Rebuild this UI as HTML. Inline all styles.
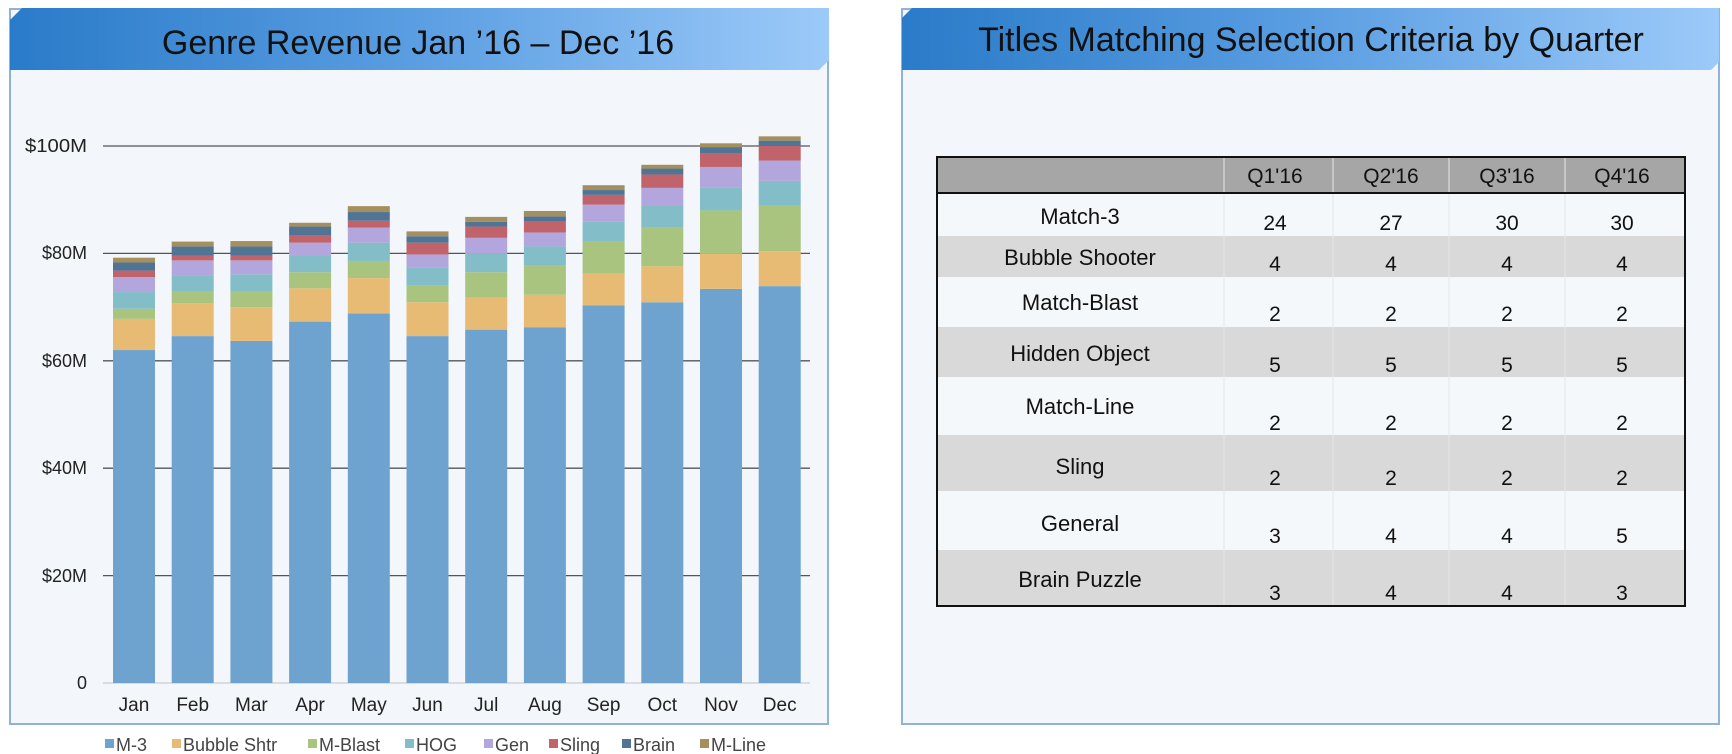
<!DOCTYPE html>
<html><head><meta charset="utf-8"><style>
html,body{margin:0;padding:0;background:#fff;}
svg{display:block;font-family:"Liberation Sans",Arial,sans-serif;}
</style></head><body>
<svg width="1732" height="754" viewBox="0 0 1732 754" xmlns="http://www.w3.org/2000/svg">
<defs>
<linearGradient id="hg" x1="0" x2="1" y1="0" y2="0">
<stop offset="0" stop-color="#2a7bc9"/><stop offset="0.5" stop-color="#5b9ee2"/><stop offset="1" stop-color="#9ccaf9"/>
</linearGradient>
</defs>
<!-- Left panel -->
<rect x="10" y="9" width="818" height="715" fill="#f3f6fa" stroke="#8fb3d6" stroke-width="2"/>
<path d="M22,8 L829,8 L829,60 L819,70 L10,70 L10,20 Z" fill="url(#hg)"/>
<text x="418" y="54" font-size="34" text-anchor="middle" fill="#111">Genre Revenue Jan ’16 – Dec ’16</text>
<g stroke="#555" stroke-width="1.3">
<line x1="103" y1="146" x2="810" y2="146"/>
<line x1="103" y1="253.4" x2="810" y2="253.4"/>
<line x1="103" y1="360.8" x2="810" y2="360.8"/>
<line x1="103" y1="468.2" x2="810" y2="468.2"/>
<line x1="103" y1="575.6" x2="810" y2="575.6"/>
</g>
<line x1="103" y1="683" x2="810" y2="683" stroke="#ccc" stroke-width="1.3"/>
<g font-size="18" fill="#222" text-anchor="end">
<text x="87" y="152" textLength="62" lengthAdjust="spacingAndGlyphs">$100M</text><text x="87" y="259">$80M</text><text x="87" y="367">$60M</text>
<text x="87" y="474">$40M</text><text x="87" y="582">$20M</text><text x="87" y="689">0</text>
</g>
<g id="bars"></g>
<g font-size="19" fill="#222" text-anchor="middle" id="months"></g>
<g font-size="18" fill="#444">
<rect x="105" y="739" width="9" height="9" fill="#6fa3cf"/><text x="116" y="751">M-3</text>
<rect x="172" y="739" width="9" height="9" fill="#e8bb74"/><text x="183" y="751">Bubble Shtr</text>
<rect x="308" y="739" width="9" height="9" fill="#a9c47e"/><text x="319" y="751">M-Blast</text>
<rect x="405" y="739" width="9" height="9" fill="#82bdc8"/><text x="416" y="751">HOG</text>
<rect x="484" y="739" width="9" height="9" fill="#b3a6dc"/><text x="495" y="751">Gen</text>
<rect x="549" y="739" width="9" height="9" fill="#c0636a"/><text x="560" y="751">Sling</text>
<rect x="622" y="739" width="9" height="9" fill="#4f7496"/><text x="633" y="751">Brain</text>
<rect x="700" y="739" width="9" height="9" fill="#a58f5c"/><text x="711" y="751">M-Line</text>
</g>
<!-- Right panel -->
<rect x="902" y="9" width="817" height="715" fill="#f3f6fa" stroke="#8fb3d6" stroke-width="2"/>
<path d="M912,8 L1719,8 L1719,62 L1711,70 L902,70 L902,18 Z" fill="url(#hg)"/>
<text x="1311" y="51" font-size="34" text-anchor="middle" fill="#111">Titles Matching Selection Criteria by Quarter</text>
<rect x="937" y="157" width="748" height="35" fill="#a6a6a6"/>
<g id="rows"></g>
<rect x="937" y="157" width="748" height="449" fill="none" stroke="#111" stroke-width="2"/>
<line x1="937" y1="193" x2="1685" y2="193" stroke="#111" stroke-width="2"/>
<g font-size="21" fill="#111" text-anchor="middle">
<text x="1275" y="183">Q1'16</text><text x="1391" y="183">Q2'16</text><text x="1507" y="183">Q3'16</text><text x="1622" y="183">Q4'16</text>
</g>
<g id="tbl" fill="#111" text-anchor="middle"></g>
<script>
var ns="http://www.w3.org/2000/svg";
function el(p,t,a,txt){var e=document.createElementNS(ns,t);for(var k in a)e.setAttribute(k,a[k]);if(txt!=null)e.textContent=txt;p.appendChild(e);return e;}
var cols=["#6fa3cf","#e8bb74","#a9c47e","#82bdc8","#b3a6dc","#c0636a","#4f7496","#a58f5c"];
var d=[[62,67.8,69.7,72.8,75.6,76.8,78.3,79.2],[64.6,70.7,73,75.8,78.7,79.6,81.3,82.2],[63.7,70,73,76.1,78.7,79.6,81.3,82.3],[67.3,73.5,76.5,79.6,82,83.3,85,85.7],[68.8,75.4,78.6,82,84.8,86.1,87.7,88.8],[64.6,70.9,74.1,77.3,79.8,82,83.2,84.1],[65.8,71.8,76.5,79.9,82.9,85,85.9,86.8],[66.2,72.3,77.7,81.3,83.9,85.9,86.9,87.9],[70.3,76.2,82.2,85.9,89.1,90.9,91.8,92.7],[70.9,77.6,84.8,89,92.2,94.7,95.8,96.5],[73.4,79.9,88,92.3,96.1,98.7,99.8,100.5],[73.9,80.4,88.9,93.5,97.3,100,101,101.8]];
var m=["Jan","Feb","Mar","Apr","May","Jun","Jul","Aug","Sep","Oct","Nov","Dec"];
var g=document.getElementById("bars"),mg=document.getElementById("months");
function Y(v){return 683-v*5.37;}
for(var i=0;i<12;i++){var cx=134+i*58.7,prev=0;
for(var j=0;j<8;j++){var v=d[i][j];el(g,"rect",{x:cx-21,y:Y(v),width:42,height:Y(prev)-Y(v),fill:cols[j]});prev=v;}
el(mg,"text",{x:cx,y:711},m[i]);}
var rb=[193,236,277,327,377,435,491,550,606];
var names=["Match-3","Bubble Shooter","Match-Blast","Hidden Object","Match-Line","Sling","General","Brain Puzzle"];
var vals=[[24,27,30,30],[4,4,4,4],[2,2,2,2],[5,5,5,5],[2,2,2,2],[2,2,2,2],[3,4,4,5],[3,4,4,3]];
var ly=[224,265,310,361,414,474,531,587],ny=[230,271,321,372,430,485,543,600];
var rg=document.getElementById("rows"),tg=document.getElementById("tbl");
var cx=[1275,1391,1507,1622];
for(var r=0;r<8;r++){el(rg,"rect",{x:937,y:rb[r],width:748,height:rb[r+1]-rb[r],fill:r%2?"#d9d9d9":"#f5f8fb"});
el(tg,"text",{x:1080,y:ly[r],"font-size":22},names[r]);
for(var c=0;c<4;c++)el(tg,"text",{x:cx[c],y:ny[r],"font-size":21},vals[r][c]);}
[1224,1333,1449,1565].forEach(function(x){el(rg,"line",{x1:x,y1:157,x2:x,y2:606,stroke:"#e6e6e6","stroke-width":1});});
</script>
</svg>
</body></html>
